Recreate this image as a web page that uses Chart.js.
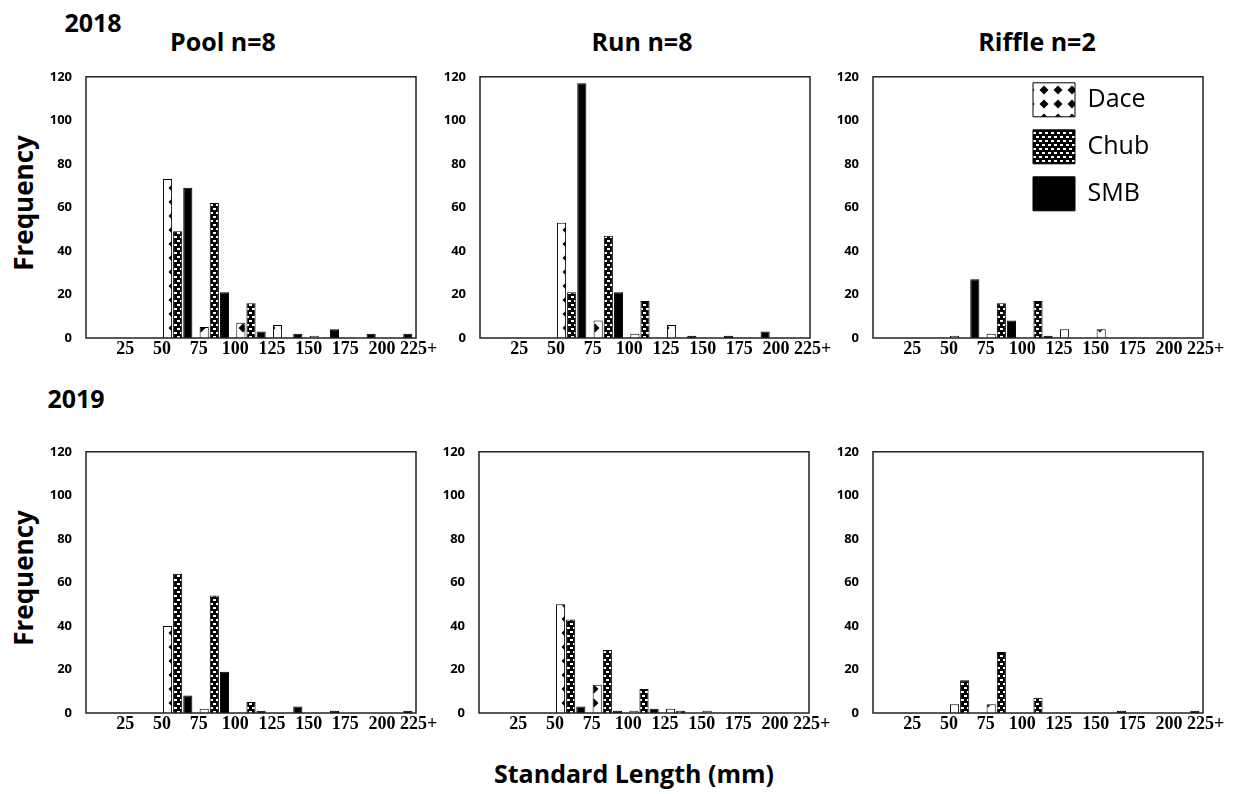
<!DOCTYPE html>
<html>
<head>
<meta charset="utf-8">
<script src="https://cdn.jsdelivr.net/npm/chart.js@4.4.1/dist/chart.umd.min.js"></script>
<style>
  body { margin: 0; background: #fff; }
  #page { position: relative; width: 1247px; height: 794px; overflow: hidden; background: #fff; }
  .panel { position: absolute; }
  .txt { position: absolute; transform: translate(-50%, -50%); white-space: nowrap;
         font-family: "Open Sans", sans-serif; font-weight: 700; color: #000; line-height: 1; }
</style>
</head>
<body>
<div id="page">
  <div class="txt" style="left:93px;top:22px;font-size:25px">2018</div>
  <div class="txt" style="left:76px;top:398px;font-size:25px">2019</div>
  <div class="txt" style="left:223px;top:41px;font-size:25px">Pool n=8</div>
  <div class="txt" style="left:642px;top:41px;font-size:25px">Run n=8</div>
  <div class="txt" style="left:1037px;top:41px;font-size:25px">Riffle n=2</div>
  <div class="txt" style="left:23px;top:203px;font-size:26px;transform:translate(-50%,-50%) rotate(-90deg)">Frequency</div>
  <div class="txt" style="left:23px;top:578px;font-size:26px;transform:translate(-50%,-50%) rotate(-90deg)">Frequency</div>
  <div class="txt" style="left:634px;top:773px;font-size:25px">Standard Length (mm)</div>
</div>
<script>
// size classes (mm), label sits at the upper edge of each class
let binLabels = ["25", "50", "75", "100", "125", "150", "175", "200", "225+"];
let species = ["Dace", "Chub", "SMB"];

// 2018
let poolDace2018 = [0, 0, 73, 5, 7, 6, 1, 0, 0];
let poolChub2018 = [0, 0, 49, 62, 16, 0, 0, 0, 0];
let poolSmb2018  = [0, 0, 69, 21, 3, 2, 4, 2, 2];

let runDace2018 = [0, 0, 53, 8, 2, 6, 0, 0, 0];
let runChub2018 = [0, 0, 21, 47, 17, 0, 0, 0, 0];
let runSmb2018  = [0, 0, 117, 21, 0, 1, 1, 3, 0];

let riffleDace2018 = [0, 0, 1, 2, 0, 4, 4, 0, 0];
let riffleChub2018 = [0, 0, 0, 16, 17, 0, 0, 0, 0];
let riffleSmb2018  = [0, 0, 27, 8, 1, 0, 0, 0, 0];

// 2019
let poolDace2019 = [0, 0, 40, 2, 0, 0, 0, 0, 0];
let poolChub2019 = [0, 0, 64, 54, 5, 0, 0, 0, 0];
let poolSmb2019  = [0, 0, 8, 19, 1, 3, 1, 0, 1];

let runDace2019 = [0, 0, 50, 13, 1, 2, 1, 0, 0];
let runChub2019 = [0, 0, 43, 29, 11, 1, 0, 0, 0];
let runSmb2019  = [0, 0, 3, 1, 2, 0, 0, 0, 0];

let riffleDace2019 = [0, 0, 4, 4, 0, 0, 0, 0, 0];
let riffleChub2019 = [0, 0, 15, 28, 7, 0, 0, 0, 0];
let riffleSmb2019  = [0, 0, 0, 0, 0, 0, 1, 0, 1];

// fill patterns
function dacePattern() {
    let tile = document.createElement("canvas");
    tile.width = 14; tile.height = 14;
    let c = tile.getContext("2d");
    c.fillStyle = "#fff";
    c.fillRect(0, 0, 14, 14);
    c.fillStyle = "#000";
    c.beginPath();
    c.moveTo(7, 2.5); c.lineTo(11.5, 7); c.lineTo(7, 11.5); c.lineTo(2.5, 7);
    c.closePath();
    c.fill();
    return c.createPattern(tile, "repeat");
}

function chubPattern() {
    let tile = document.createElement("canvas");
    tile.width = 6; tile.height = 8;
    let c = tile.getContext("2d");
    c.fillStyle = "#000";
    c.fillRect(0, 0, 6, 8);
    c.fillStyle = "#fff";
    c.fillRect(1, 1, 3, 2);
    c.fillRect(4, 5, 2, 2);
    c.fillRect(0, 5, 1, 2);
    return c.createPattern(tile, "repeat");
}

let fills = [dacePattern(), chubPattern(), "#000"];

// box round the plot area
let framePlugin = {
    id: "frame",
    afterDatasetsDraw(chart) {
        let a = chart.chartArea, c = chart.ctx;
        c.save();
        c.strokeStyle = "#222";
        c.lineWidth = 1.5;
        c.strokeRect(a.left, a.top, a.right - a.left, a.bottom - a.top);
        c.restore();
    }
};

// park the legend in the upper right of the plot area
let legendSpot = {
    id: "legendSpot",
    afterLayout(chart) {
        let lg = chart.legend;
        if (!lg || !lg.options.display) return;
        let pad = lg.options.labels.padding;
        lg.left = chart.chartArea.left + 160 - pad;
        lg.top = chart.chartArea.top + 6 - pad;
        lg.right = lg.left + lg.width;
        lg.bottom = lg.top + lg.height;
    }
};

let panels = [
    { left: 86,  top: 55,  series: [poolDace2018, poolChub2018, poolSmb2018] },
    { left: 480, top: 55,  series: [runDace2018, runChub2018, runSmb2018] },
    { left: 873, top: 55,  series: [riffleDace2018, riffleChub2018, riffleSmb2018], legend: true },
    { left: 86,  top: 430, series: [poolDace2019, poolChub2019, poolSmb2019] },
    { left: 479, top: 430, series: [runDace2019, runChub2019, runSmb2019] },
    { left: 873, top: 430, series: [riffleDace2019, riffleChub2019, riffleSmb2019] }
];

let page = document.getElementById("page");
let yAxisWidth = 60;

panels.forEach(p => {
    let canvas = document.createElement("canvas");
    canvas.className = "panel";
    canvas.width = yAxisWidth + 330 + 30;
    canvas.height = 12 + 271 + 34;
    canvas.style.left = (p.left - yAxisWidth) + "px";
    canvas.style.top = p.top + "px";
    page.appendChild(canvas);

    new Chart(canvas, {
        type: "bar",
        data: {
            labels: binLabels,
            datasets: species.map((name, i) => ({
                label: name,
                data: p.series[i],
                backgroundColor: fills[i],
                borderColor: "#000",
                borderWidth: 1,
                categoryPercentage: 0.83,
                barPercentage: 0.9
            }))
        },
        options: {
            responsive: false,
            animation: false,
            layout: { padding: { left: 0, right: 30, top: 12, bottom: 0 } },
            plugins: {
                tooltip: { enabled: false },
                legend: {
                    display: !!p.legend,
                    position: "chartArea",
                    align: "start",
                    labels: {
                        boxWidth: 42,
                        boxHeight: 34,
                        padding: 13,
                        color: "#000",
                        font: { family: "'Open Sans', sans-serif", size: 25, weight: "normal" }
                    }
                }
            },
            scales: {
                x: {
                    grid: { display: false, drawTicks: false },
                    border: { display: false },
                    ticks: {
                        autoSkip: false,
                        maxRotation: 0,
                        minRotation: 0,
                        labelOffset: 21,
                        padding: 1,
                        color: "#000",
                        font: { family: "'Liberation Serif', serif", size: 18, weight: "bold" }
                    },
                    afterFit(scale) { scale.height = 34; }
                },
                y: {
                    min: 0,
                    max: 120,
                    grid: { display: false, drawTicks: false },
                    border: { display: false },
                    ticks: {
                        stepSize: 20,
                        padding: 14,
                        color: "#000",
                        font: { family: "'Open Sans', sans-serif", size: 13, weight: "bold" }
                    },
                    afterFit(scale) { scale.width = yAxisWidth; }
                }
            }
        },
        plugins: [framePlugin, legendSpot]
    });
});
</script>
</body>
</html>
